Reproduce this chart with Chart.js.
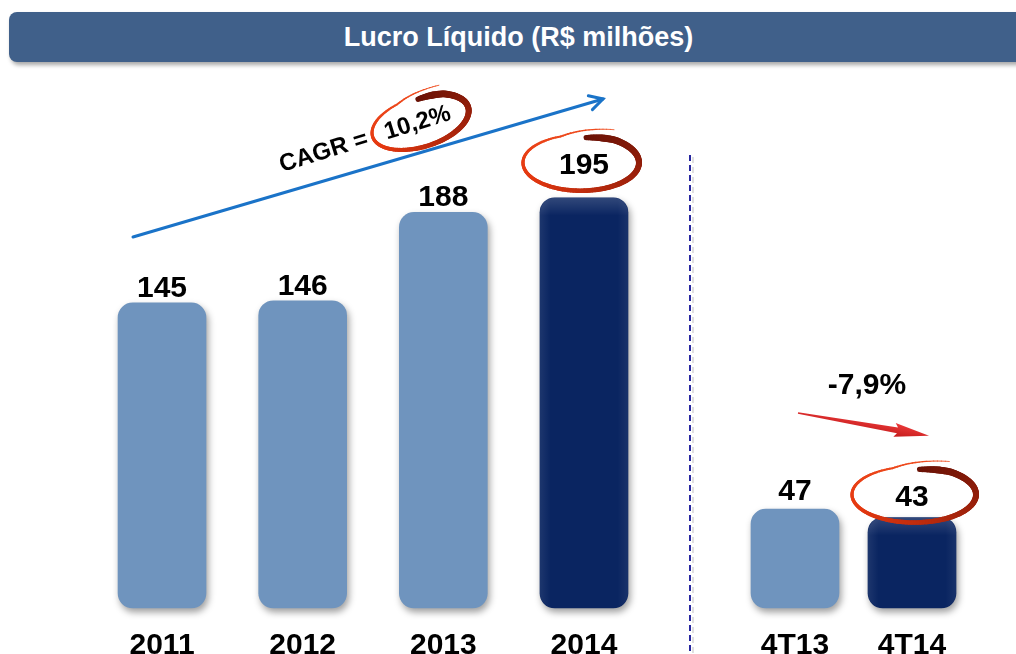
<!DOCTYPE html>
<html>
<head>
<meta charset="utf-8">
<script src="https://cdn.jsdelivr.net/npm/chart.js@4.4.1/dist/chart.umd.min.js"></script>
<style>
  html, body { margin:0; padding:0; width:1016px; height:654px; overflow:hidden; background:#ffffff; }
  #wrap { position:relative; width:1016px; height:654px; overflow:hidden; }
  canvas { position:absolute; left:0; top:0; }
  #banner { position:absolute; left:9px; top:12px; width:1022px; height:50px; background:#40608A;
            border-radius:8px; box-shadow:2px 3px 4px rgba(0,0,0,0.35); }
  #banner span { position:absolute; left:0; width:1019px; top:0; text-align:center; color:#fff;
            font:bold 27px "Liberation Sans", Arial, Helvetica, sans-serif; line-height:51px; }
</style>
</head>
<body>
<div id="wrap">
  <div id="banner"><span id="titleText"></span></div>
  <canvas id="annual" width="1016" height="700"></canvas>
  <canvas id="quarter" width="1016" height="700"></canvas>
</div>
<script>
// ---- data ----
const annualLabels = ['2011', '2012', '2013', '2014'];
const annualValues = [145, 146, 188, 195];
const quarterLabels = ['4T13', '4T14'];
const quarterValues = [47, 43];
const titleText = 'Lucro Líquido (R$ milhões)';
const cagrLabel = 'CAGR =';
const cagrValue = '10,2%';
const quarterChange = '-7,9%';
const yMax = 221;

// ---- styles ----
const FONT = '"Liberation Sans", Arial, Helvetica, sans-serif';
const LIGHT = '#6F94BE';
const DARK = '#0A2561';

document.getElementById('titleText').textContent = titleText;

function barColors(n) {
  return Array.from({ length: n }, (_, i) => (i === n - 1 ? DARK : LIGHT));
}

function lerp(a, b, t) { return a + (b - a) * t; }
function colAt(t) {
  const stops = [[0, [105, 18, 6]], [0.35, [165, 36, 12]], [0.62, [228, 56, 16]], [1, [240, 78, 32]]];
  for (let k = 1; k < stops.length; k++) {
    if (t <= stops[k][0]) {
      const [t0, c0] = stops[k - 1], [t1, c1] = stops[k];
      const u = (t - t0) / (t1 - t0);
      return 'rgb(' + c0.map((v, j) => Math.round(lerp(v, c1[j], u))).join(',') + ')';
    }
  }
  return 'rgb(240,78,32)';
}
function widthAt(t) {
  if (t < 0.05) return lerp(5, 7, t / 0.05);
  if (t < 0.4) return lerp(7, 5, (t - 0.05) / 0.35);
  if (t < 0.8) return lerp(5, 2.6, (t - 0.4) / 0.4);
  return lerp(2.6, 0.8, (t - 0.8) / 0.2);
}
function handCircle(ctx, cx, cy, rx, ry, rot) {
  const N = 140, a0 = -Math.PI / 2 + 0.1, sweep = 2 * Math.PI + 0.35;
  ctx.save();
  ctx.translate(cx, cy);
  ctx.rotate(rot);
  ctx.lineCap = 'round';
  ctx.shadowColor = 'transparent';
  let px, py;
  for (let i = 0; i <= N; i++) {
    const t = i / N;
    const a = a0 + sweep * t;
    let g = 1;
    if (t < 0.08) g = lerp(0.9, 1, t / 0.08);
    if (t > 0.88) g = 1 + 0.31 * ((t - 0.88) / 0.12);
    const x = rx * g * Math.cos(a), y = ry * g * Math.sin(a);
    if (i > 0) {
      ctx.beginPath();
      ctx.moveTo(px, py);
      ctx.lineTo(x, y);
      ctx.strokeStyle = colAt(t);
      ctx.lineWidth = widthAt(t);
      ctx.stroke();
    }
    px = x; py = y;
  }
  ctx.restore();
}

const shadowPlugin = {
  id: 'barShadow',
  beforeDatasetsDraw(chart) {
    const c = chart.ctx;
    c.save();
    c.shadowColor = 'rgba(0,0,0,0.38)';
    c.shadowBlur = 7;
    c.shadowOffsetX = 2;
    c.shadowOffsetY = 4;
  },
  afterDatasetsDraw(chart) {
    const c = chart.ctx;
    c.restore();
    // subtle bevel on the highlighted (dark) bar
    const meta = chart.getDatasetMeta(0);
    const el = meta.data[meta.data.length - 1];
    const w = el.width, x0 = el.x - w / 2, y0 = el.y, h = el.base - el.y;
    c.save();
    c.beginPath();
    c.roundRect(x0, y0, w, h, 15);
    c.clip();
    let g = c.createLinearGradient(0, y0, 0, y0 + 18);
    g.addColorStop(0, 'rgba(255,255,255,0.16)');
    g.addColorStop(1, 'rgba(255,255,255,0)');
    c.fillStyle = g;
    c.fillRect(x0, y0, w, 18);
    g = c.createLinearGradient(x0, 0, x0 + w, 0);
    g.addColorStop(0, 'rgba(255,255,255,0.08)');
    g.addColorStop(0.12, 'rgba(255,255,255,0)');
    g.addColorStop(0.88, 'rgba(255,255,255,0)');
    g.addColorStop(1, 'rgba(255,255,255,0.06)');
    c.fillStyle = g;
    c.fillRect(x0, y0, w, h);
    c.restore();
  }
};

function labelsPlugin(opts) {
  return {
    id: 'valueLabels',
    afterDatasetsDraw(chart) {
      const meta = chart.getDatasetMeta(0);
      const ds = chart.data.datasets[0];
      const ctx = chart.ctx;
      ctx.save();
      ctx.font = 'bold ' + opts.size + 'px ' + FONT;
      ctx.fillStyle = '#000';
      ctx.textAlign = 'center';
      ctx.textBaseline = 'alphabetic';
      meta.data.forEach((el, i) => {
        const hi = i === meta.data.length - 1;
        const y = el.y - (hi ? opts.hiGap : opts.gap);
        ctx.fillText(String(ds.data[i]), el.x, y);
        if (hi) handCircle(ctx, el.x + opts.cdx, y - 11, opts.rx, opts.ry, 0);
      });
      ctx.restore();
    }
  };
}

const annualDecor = {
  id: 'annualDecor',
  afterDraw(chart) {
    const ctx = chart.ctx;
    ctx.save();
    // CAGR arrow
    const x1 = 133, y1 = 237, x2 = 603, y2 = 99;
    const ang = Math.atan2(y2 - y1, x2 - x1);
    ctx.strokeStyle = '#1A73C8';
    ctx.lineWidth = 3;
    ctx.lineCap = 'round';
    ctx.beginPath();
    ctx.moveTo(x1, y1);
    ctx.lineTo(x2, y2);
    ctx.stroke();
    ctx.beginPath();
    ctx.moveTo(x2 - 15 * Math.cos(ang - 0.5), y2 - 15 * Math.sin(ang - 0.5));
    ctx.lineTo(x2, y2);
    ctx.lineTo(x2 - 15 * Math.cos(ang + 0.5), y2 - 15 * Math.sin(ang + 0.5));
    ctx.stroke();
    // CAGR text
    ctx.translate(282, 172);
    ctx.rotate(-0.3);
    ctx.fillStyle = '#000';
    ctx.font = 'bold 24px ' + FONT;
    ctx.textAlign = 'left';
    ctx.textBaseline = 'alphabetic';
    ctx.fillText(cagrLabel, 0, 0);
    ctx.fillText(cagrValue, 110, 0);
    handCircle(ctx, 147, -7, 50, 25, 0);
    ctx.restore();
  }
};

const quarterDecor = {
  id: 'quarterDecor',
  afterDraw(chart) {
    const ctx = chart.ctx;
    ctx.save();
    // divider
    ctx.setLineDash([6, 4]);
    ctx.lineWidth = 2;
    ctx.strokeStyle = 'rgba(0,0,0,0.12)';
    ctx.beginPath(); ctx.moveTo(693, 157); ctx.lineTo(693, 660); ctx.stroke();
    ctx.strokeStyle = '#2626A0';
    ctx.beginPath(); ctx.moveTo(690, 155); ctx.lineTo(690, 660); ctx.stroke();
    ctx.setLineDash([]);
    // change text
    ctx.fillStyle = '#000';
    ctx.font = 'bold 30px ' + FONT;
    ctx.textAlign = 'center';
    ctx.textBaseline = 'middle';
    ctx.fillText(quarterChange, 867, 386);
    // red arrow
    ctx.translate(798, 413);
    ctx.rotate(Math.atan2(23, 132));
    const g = ctx.createLinearGradient(0, -7, 0, 7);
    g.addColorStop(0, '#EC3A3A');
    g.addColorStop(1, '#C41C1C');
    ctx.fillStyle = g;
    ctx.beginPath();
    ctx.moveTo(0, -0.8);
    ctx.lineTo(101, -3);
    ctx.lineTo(98, -7);
    ctx.lineTo(133, 0);
    ctx.lineTo(98, 7);
    ctx.lineTo(101, 3);
    ctx.lineTo(0, 0.8);
    ctx.closePath();
    ctx.fill();
    ctx.restore();
  }
};

function makeChart(id, labels, values, padL, padR, lblOpts, decor) {
  return new Chart(document.getElementById(id), {
    type: 'bar',
    data: {
      labels: labels,
      datasets: [{
        data: values,
        backgroundColor: barColors(values.length),
        borderRadius: 15,
        borderSkipped: false,
        barThickness: 88,
        clip: false
      }]
    },
    options: {
      responsive: false,
      animation: false,
      events: [],
      layout: { padding: { left: padL, right: padR, top: 143, bottom: 16 } },
      plugins: { legend: { display: false }, tooltip: { enabled: false }, title: { display: false } },
      scales: {
        x: {
          grid: { display: false, drawTicks: false, tickLength: 0 },
          border: { display: false },
          ticks: { color: '#000', font: { family: FONT, size: 30, weight: 'bold' }, padding: 20 }
        },
        y: { display: false, min: 0, max: yMax }
      }
    },
    plugins: [shadowPlugin, labelsPlugin(lblOpts), decor]
  });
}

makeChart('annual', annualLabels, annualValues, 91.7, 361.7,
  { size: 30, gap: 6, hiGap: 24, rx: 58, ry: 28, cdx: -3 }, annualDecor);
makeChart('quarter', quarterLabels, quarterValues, 736.5, 45.5,
  { size: 30, gap: 9, hiGap: 12, rx: 62, ry: 28, cdx: 2 }, quarterDecor);
</script>
</body>
</html>
